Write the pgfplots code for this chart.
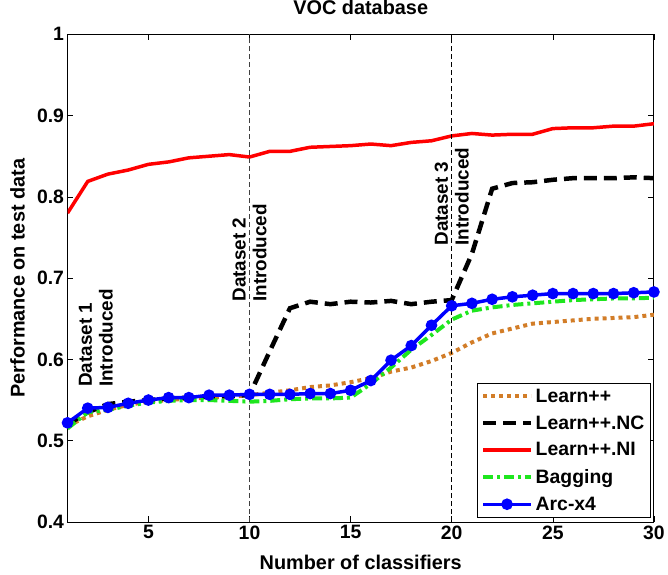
\documentclass[border=0pt]{standalone}
\usepackage{fontspec}
\setmainfont{Liberation Sans}
\usepackage{pgfplots}
\pgfplotsset{compat=1.18}
\definecolor{lorange}{RGB}{210,125,40}
\definecolor{lgreen}{RGB}{30,230,30}
\newcommand{\ff}{\fontsize{20}{22}\selectfont\bfseries}
\newcommand{\ft}{\fontsize{19.5}{22}\selectfont\bfseries}
\newcommand{\fa}{\fontsize{19}{21}\selectfont\bfseries}
\begin{document}
\begin{tikzpicture}
\begin{axis}[
  scale only axis,
  width=588bp, height=489bp,
  xmin=1, xmax=30, ymin=0.4, ymax=1,
  xtick={5,10,15,20,25,30},
  ytick={0.4,0.5,0.6,0.7,0.8,0.9,1},
  yticklabels={0.4,0.5,0.6,0.7,0.8,0.9,1},
  /pgf/number format/assume math mode=true,
  tick label style={font=\ft},
  major tick length=6bp,
  tick style={black, line width=0.6pt},
  axis line style={line width=0.9pt},
  title={VOC database},
  title style={font=\ff, at={(axis description cs:0.5,1.0286)}, anchor=base, inner sep=0pt},
  xlabel={Number of classifiers},
  xlabel style={font=\ff, at={(axis description cs:0.5,-0.0667)}, anchor=north, inner sep=0pt},
  ylabel={Performance on test data},
  ylabel style={font=\ff, at={(axis description cs:-0.0726,0.5)}, anchor=south, inner sep=0pt},
  legend style={font=\ft, at={(axis description cs:0.994,0.009)}, anchor=south east,
    draw=black, line width=0.9pt, inner sep=3bp, row sep=7bp,
    nodes={inner sep=2.5bp}},
  legend cell align=left,
  legend image code/.code={\draw[mark repeat=2,mark phase=2,#1] plot coordinates {(0bp,0bp) (24bp,0bp) (48bp,0bp)};},
]
\addplot[lorange, line width=4bp, dash pattern=on 4bp off 4bp] coordinates {
(1,0.518)(2,0.530)(3,0.538)(4,0.544)(5,0.548)(6,0.550)(7,0.552)(8,0.553)(9,0.554)(10,0.556)
(11,0.559)(12,0.562)(13,0.566)(14,0.568)(15,0.572)(16,0.577)(17,0.585)(18,0.590)(19,0.598)(20,0.608)
(21,0.621)(22,0.632)(23,0.638)(24,0.644)(25,0.646)(26,0.648)(27,0.650)(28,0.651)(29,0.652)(30,0.655)};
\addlegendentry{Learn++}
\addplot[black, line width=4.5bp, dash pattern=on 13bp off 7bp] coordinates {
(1,0.520)(2,0.535)(3,0.545)(4,0.548)(5,0.550)(6,0.552)(7,0.553)(8,0.554)(9,0.555)(10,0.556)
(11,0.610)(12,0.663)(13,0.671)(14,0.668)(15,0.671)(16,0.670)(17,0.672)(18,0.668)(19,0.671)(20,0.673)
(21,0.730)(22,0.810)(23,0.817)(24,0.818)(25,0.821)(26,0.823)(27,0.823)(28,0.823)(29,0.824)(30,0.823)};
\addlegendentry{Learn++.NC}
\addplot[red, line width=3.5bp] coordinates {
(1,0.780)(2,0.819)(3,0.828)(4,0.833)(5,0.840)(6,0.843)(7,0.848)(8,0.850)(9,0.852)(10,0.849)
(11,0.856)(12,0.856)(13,0.861)(14,0.862)(15,0.863)(16,0.865)(17,0.863)(18,0.867)(19,0.869)(20,0.875)
(21,0.878)(22,0.876)(23,0.877)(24,0.877)(25,0.884)(26,0.885)(27,0.885)(28,0.887)(29,0.887)(30,0.890)};
\addlegendentry{Learn++.NI}
\addplot[lgreen, line width=4bp, dash pattern=on 10bp off 4bp on 3bp off 4bp] coordinates {
(1,0.515)(2,0.535)(3,0.538)(4,0.543)(5,0.547)(6,0.549)(7,0.550)(8,0.550)(9,0.549)(10,0.548)
(11,0.549)(12,0.551)(13,0.552)(14,0.552)(15,0.553)(16,0.570)(17,0.590)(18,0.612)(19,0.630)(20,0.649)
(21,0.660)(22,0.664)(23,0.667)(24,0.669)(25,0.671)(26,0.673)(27,0.674)(28,0.675)(29,0.675)(30,0.676)};
\addlegendentry{Bagging}
\addplot[blue, line width=3.5bp, mark=*, mark size=4bp, mark options={solid, fill=blue}] coordinates {
(1,0.522)(2,0.540)(3,0.541)(4,0.546)(5,0.550)(6,0.553)(7,0.553)(8,0.556)(9,0.556)(10,0.557)
(11,0.557)(12,0.557)(13,0.558)(14,0.558)(15,0.562)(16,0.574)(17,0.599)(18,0.617)(19,0.642)(20,0.666)
(21,0.669)(22,0.674)(23,0.677)(24,0.679)(25,0.681)(26,0.681)(27,0.681)(28,0.681)(29,0.682)(30,0.683)};
\addlegendentry{Arc-x4}
\addplot[black!75, line width=0.9bp, dash pattern=on 5bp off 3bp, forget plot] coordinates {(10,0.4)(10,1)};
\addplot[black, line width=0.9bp, dash pattern=on 5bp off 3bp, forget plot] coordinates {(20,0.4)(20,1)};
\node[rotate=90, anchor=west, align=left, inner sep=0pt, font=\fa] at (axis cs:2.4,0.566) {Dataset 1\\Introduced};
\node[rotate=90, anchor=west, align=left, inner sep=0pt, font=\fa] at (axis cs:10,0.671) {Dataset 2\\Introduced};
\node[rotate=90, anchor=west, align=left, inner sep=0pt, font=\fa] at (axis cs:20,0.740) {Dataset 3\\Introduced};
\end{axis}
\path (current axis.south west) ++(-67.7bp,-52.3bp);
\path (current axis.north east) ++(12.5bp,33.3bp);
\end{tikzpicture}
\end{document}
